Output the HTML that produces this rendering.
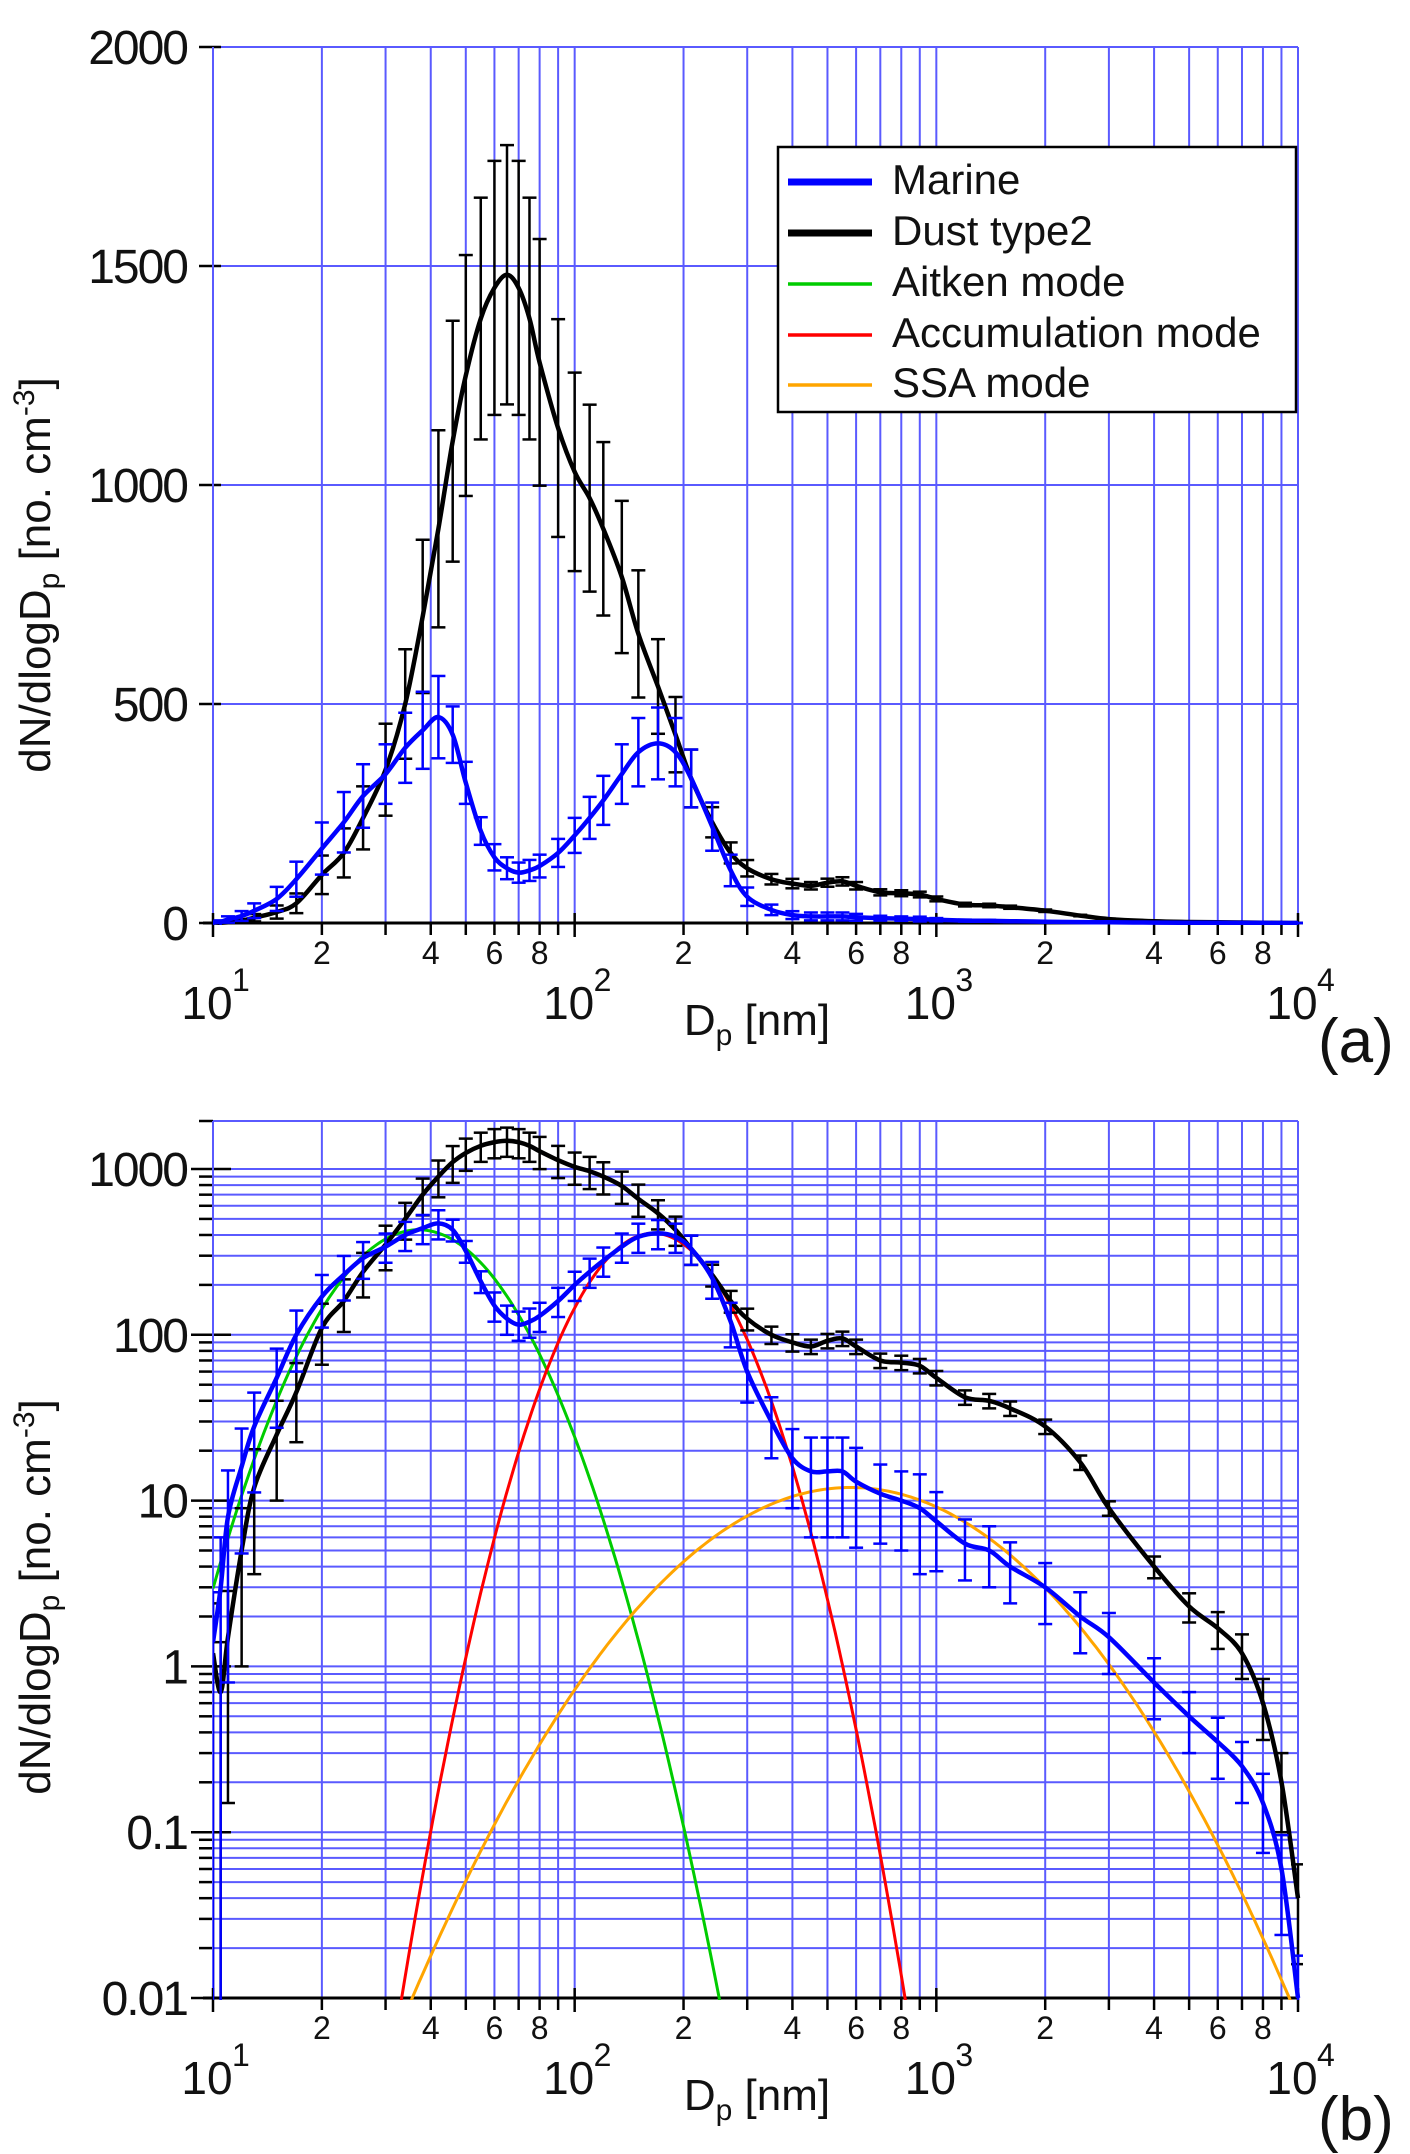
<!DOCTYPE html>
<html><head><meta charset="utf-8"><style>
html,body{margin:0;padding:0;background:#fff}
svg{display:block}
text{font-family:"Liberation Sans",Arial,sans-serif;fill:#111}
</style></head><body>
<svg id="fig" width="1410" height="2154" viewBox="0 0 1410 2154" xmlns="http://www.w3.org/2000/svg">
<defs>
<clipPath id="clipA"><rect x="213" y="40" width="1090" height="885"/></clipPath>
<clipPath id="clipB"><rect x="213" y="1118" width="1090" height="882"/></clipPath>
</defs>
<g id="panelA"></g>
<g id="panelB"></g>
<g>
<rect x="778" y="147" width="518" height="265" fill="#fff" stroke="#000" stroke-width="2.5"/>
<g><line x1="788" y1="182" x2="872" y2="182" stroke="#0000ff" stroke-width="7"/><text x="892" y="194" font-size="42">Marine</text></g>
<g><line x1="788" y1="233" x2="872" y2="233" stroke="#000" stroke-width="7"/><text x="892" y="245" font-size="42">Dust type2</text></g>
<g><line x1="788" y1="284" x2="872" y2="284" stroke="#00cc00" stroke-width="3.5"/><text x="892" y="296" font-size="42">Aitken mode</text></g>
<g><line x1="788" y1="335" x2="872" y2="335" stroke="#ff0000" stroke-width="3.5"/><text x="892" y="347" font-size="42">Accumulation mode</text></g>
<g><line x1="788" y1="385" x2="872" y2="385" stroke="#ffa500" stroke-width="3.5"/><text x="892" y="397" font-size="42">SSA mode</text></g>
</g>
<text x="1318" y="1062" font-size="62">(a)</text>
<text x="1318" y="2140" font-size="62">(b)</text>
</svg>
<script>
const diameters=[10,10.5,11,12,13,15,17,20,23,26,30,34,38,42,46,50,55,60,65,70,75,80,90,100,110,120,135,150,170,190,210,240,270,300,350,400,450,500,550,600,700,800,900,1000,1200,1400,1600,2000,2500,3000,4000,5000,6000,7000,8000,9000,10000];
const marine=[1.4,3,8,16,28,55,100,170,230,290,340,400,440,470,430,320,210,150,125,115,120,130,160,200,240,280,340,390,410,390,330,220,120,60,30,18,15,15,15,13,11,10,9,7.5,5.5,5,4,3,2,1.5,0.8,0.5,0.35,0.25,0.15,0.06,0.01];
const dust=[1.2,0.7,1.5,5,12,25,45,110,160,240,350,500,700,900,1100,1250,1380,1450,1480,1450,1380,1280,1130,1030,970,900,790,660,540,430,330,230,160,125,100,90,85,92,95,85,70,68,65,55,42,40,36,28,17,9,4,2.3,1.7,1.2,0.6,0.2,0.04];
const marineErr=[1,1,0.9,0.7,0.6,0.5,0.4,0.35,0.3,0.25,0.2,0.2,0.2,0.2,0.15,0.15,0.15,0.2,0.2,0.2,0.2,0.2,0.2,0.2,0.2,0.2,0.2,0.2,0.2,0.2,0.2,0.25,0.3,0.35,0.4,0.5,0.6,0.6,0.6,0.6,0.5,0.5,0.6,0.5,0.4,0.4,0.4,0.4,0.4,0.4,0.4,0.4,0.4,0.4,0.5,0.6,0.8];
const dustErr=[1,1,0.9,0.8,0.7,0.6,0.5,0.4,0.35,0.3,0.3,0.25,0.25,0.25,0.25,0.22,0.2,0.2,0.2,0.2,0.2,0.22,0.22,0.22,0.22,0.22,0.22,0.22,0.2,0.2,0.2,0.15,0.15,0.15,0.12,0.12,0.1,0.1,0.1,0.1,0.1,0.1,0.1,0.1,0.1,0.1,0.1,0.1,0.1,0.1,0.15,0.2,0.25,0.3,0.4,0.5,0.6];
const modeNames=["aitken","accumulation","ssa"];
const modePeak=[430,410,12];
const modeDg=[37,165,580];
const modeSigma=[0.18,0.151,0.322];
const modeColors=["#00cc00","#ff0000","#ffa500"];
const yTicksA=[0,500,1000,1500,2000];
const yTicksB=[0.01,0.1,1,10,100,1000];
const yTickLabelsB=["0.01","0.1","1","10","100","1000"];

const NS="http://www.w3.org/2000/svg";
function mk(tag,attrs,parent){const e=document.createElementNS(NS,tag);for(const k in attrs)e.setAttribute(k,attrs[k]);parent.appendChild(e);return e;}
const X0=213,X1=1298;
function xs(d){return X0+(Math.log10(d)-1)*(X1-X0)/3;}
function yA(v){return 923-v/2000*876;}
function yB(v){return 1169-(Math.log10(Math.max(v,1e-6))-3)*165.8;}

function smoothPath(pts){
  let s="M"+pts[0][0].toFixed(1)+","+pts[0][1].toFixed(1);
  for(let i=0;i<pts.length-1;i++){
    const p0=pts[Math.max(0,i-1)],p1=pts[i],p2=pts[i+1],p3=pts[Math.min(pts.length-1,i+2)];
    const c1=[p1[0]+(p2[0]-p0[0])/6,p1[1]+(p2[1]-p0[1])/6];
    const c2=[p2[0]-(p3[0]-p1[0])/6,p2[1]-(p3[1]-p1[1])/6];
    s+="C"+c1[0].toFixed(1)+","+c1[1].toFixed(1)+" "+c2[0].toFixed(1)+","+c2[1].toFixed(1)+" "+p2[0].toFixed(1)+","+p2[1].toFixed(1);
  }
  return s;
}

function drawPanel(g,log,yf,yTop,yBot,clip){
  const grid=mk('g',{},g);
  
  
  for(let dec=1;dec<=3;dec++){for(let m=1;m<=9;m++){const d=m*Math.pow(10,dec);const x=xs(d);
    mk('line',{x1:x,y1:yTop,x2:x,y2:yBot,stroke:'#5a5aff','stroke-width':2},grid);}}
  mk('line',{x1:X1,y1:yTop,x2:X1,y2:yBot,stroke:'#5a5aff','stroke-width':2},grid);
  if(log){for(let e=-2;e<=3;e++){for(let m=1;m<=9;m++){const v=m*Math.pow(10,e);const y=yf(v);if(y<yTop-1)continue;
    mk('line',{x1:X0,y1:y,x2:X1,y2:y,stroke:'#5a5aff','stroke-width':2},grid);
    mk('line',{x1:X0-(m===1?22:14),y1:y,x2:X0+(m===1?18:0),y2:y,stroke:'#000','stroke-width':2.5},grid);}}
    mk('line',{x1:X0,y1:yTop,x2:X1,y2:yTop,stroke:'#5a5aff','stroke-width':2},grid);
    mk('line',{x1:X0-14,y1:yTop,x2:X0,y2:yTop,stroke:'#000','stroke-width':2.5},grid);
  } else {for(const v of yTicksA){const y=yf(v);
    mk('line',{x1:X0,y1:y,x2:X1,y2:y,stroke:'#5a5aff','stroke-width':2},grid);
    mk('line',{x1:X0-14,y1:y,x2:X0+8,y2:y,stroke:'#000','stroke-width':2.5},grid);}}
  mk('line',{x1:X0,y1:yTop,x2:X0,y2:yBot,stroke:'#5a5aff','stroke-width':2},grid);
  const ax=mk('g',{},g);
  
  
  mk('line',{x1:X0-10,y1:yBot,x2:X1,y2:yBot,stroke:'#000','stroke-width':3},ax);
  for(let dec=1;dec<=4;dec++){for(let m=1;m<=9;m++){if(dec===4&&m>1)break;const d=m*Math.pow(10,dec);const x=xs(d);
    mk('line',{x1:x,y1:yBot-(m===1?10:0),x2:x,y2:yBot+(m===1?14:12),stroke:'#000','stroke-width':2.5},ax);
    if(m===2||m===4||m===6||m===8){const t=mk('text',{x:x,y:yBot+41,'font-size':32,'text-anchor':'middle'},ax);t.textContent=m;
      
      }
    if(m===1){const t=mk('text',{x:x-6,y:yBot+96,'font-size':46,'text-anchor':'middle'},ax);t.textContent='10';
      
      
      const s=mk('text',{x:x+19,y:yBot+68,'font-size':32},ax);s.textContent=dec;}}}
  const xt=mk('text',{x:757,y:yBot+112,'font-size':44,'text-anchor':'middle'},ax);
  
  
  xt.innerHTML='D<tspan font-size="30" dy="10">p</tspan><tspan dy="-10"> [nm]</tspan>';
  const plot=mk('g',{'clip-path':'url(#'+clip+')'},g);
  
  
  if(log){for(let k=0;k<modeNames.length;k++){const pts=[];
    for(let i=0;i<=300;i++){const ld=1+3*i/300;const d=Math.pow(10,ld);
      const v=modePeak[k]*Math.exp(-Math.pow(ld-Math.log10(modeDg[k]),2)/(2*modeSigma[k]*modeSigma[k]));
      pts.push([xs(d),yf(v)]);}
    const p=mk('path',{d:'M'+pts.map(q=>q[0].toFixed(1)+','+Math.min(q[1],2100).toFixed(1)).join('L'),fill:'none',stroke:modeColors[k],'stroke-width':3},plot);
    
    }}
  const series=[[dust,dustErr,'#000','dust'],[marine,marineErr,'#0000ff','marine']];
  for(const [vals,errs,col,nm] of series){
    const eg=mk('g',{stroke:col,'stroke-width':2.5},plot);
    
    
    for(let i=0;i<diameters.length;i++){const x=xs(diameters[i]);
      const hi=yf(vals[i]*(1+errs[i]));const lo=vals[i]*(1-errs[i])<=0?yBot+5:yf(vals[i]*(1-errs[i]));
      mk('line',{x1:x,y1:hi,x2:x,y2:lo},eg);
      mk('line',{x1:x-7,y1:hi,x2:x+7,y2:hi},eg);
      mk('line',{x1:x-7,y1:lo,x2:x+7,y2:lo},eg);}
    const pts=diameters.map((d,i)=>[xs(d),yf(vals[i])]);
    const p=mk('path',{d:smoothPath(pts),fill:'none',stroke:col,'stroke-width':4.5},plot);
    
    }
  const yl=mk('g',{},g);
  
  
  const ticks=log?yTicksB:yTicksA;
  ticks.forEach((v,i)=>{const lab=log?yTickLabelsB[i]:String(v);
    const t=mk('text',{x:187,y:yf(v)+17,'font-size':48,'text-anchor':'end','letter-spacing':-2},yl);t.textContent=lab;
    
    });
}
drawPanel(document.getElementById('panelA'),false,yA,47,923,'clipA');
drawPanel(document.getElementById('panelB'),true,yB,1121,1998,'clipB');
const svg=document.getElementById('fig');
const ta=mk('text',{x:0,y:0,'font-size':44,'text-anchor':'middle',transform:'translate(50,575) rotate(-90)'},svg);


ta.innerHTML='dN/dlogD<tspan font-size="30" dy="9">p</tspan><tspan dy="-9"> [no. cm</tspan><tspan font-size="30" dy="-16">-3</tspan><tspan dy="16">]</tspan>';
const tb=mk('text',{x:0,y:0,'font-size':44,'text-anchor':'middle',transform:'translate(50,1597) rotate(-90)'},svg);


tb.innerHTML='dN/dlogD<tspan font-size="30" dy="9">p</tspan><tspan dy="-9">  [no. cm</tspan><tspan font-size="30" dy="-16">-3</tspan><tspan dy="16">]</tspan>';
</script>
</body></html>
